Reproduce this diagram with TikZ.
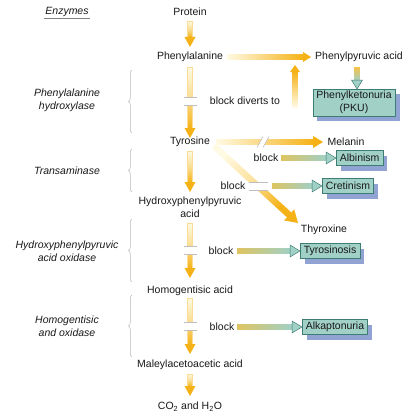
\documentclass[tikz,border=0pt]{standalone}
\usepackage{fontspec}
\setmainfont{Liberation Sans}
\usetikzlibrary{calc,shadows,decorations.pathreplacing}
\definecolor{org}{RGB}{245,178,22}
\definecolor{pale}{RGB}{255,250,228}
\definecolor{tealf}{RGB}{160,208,198}
\definecolor{teald}{RGB}{62,125,115}
\definecolor{shad}{RGB}{145,163,210}
\definecolor{olive}{RGB}{222,196,96}
\definecolor{txtc}{RGB}{25,25,25}
\definecolor{gapc}{RGB}{190,190,190}
\definecolor{brcc}{RGB}{185,185,185}
% #1 shaft opts, #2 head opts, #3 start, #4 tip, #5 shaft half width, #6 head half width, #7 head length
\newcommand{\farrow}[7]{%
  \coordinate (fa-h) at ($(#4)!#7!(#3)$);
  \coordinate (fa-k) at ($(#4)!#7-0.6pt!(#3)$);
  \path[#1] ($(#3)!#5!90:(#4)$) -- ($(fa-k)!#5!90:(#4)$) -- ($(fa-k)!#5!-90:(#4)$) -- ($(#3)!#5!-90:(#4)$) -- cycle;
  \path[#2] ($(fa-h)!#6!90:(#4)$) -- (#4) -- ($(fa-h)!#6!-90:(#4)$) -- cycle;
}
\begin{document}
\begin{tikzpicture}[x=1pt,y=-1pt,
  font=\fontsize{10.5}{13}\selectfont,
  every node/.style={text=txtc, inner sep=1pt},
  enzl/.style={font=\fontsize{10.5}{13}\selectfont\itshape, align=center},
  mol/.style={align=center},
  dbox/.style={draw=teald, line width=0.6pt, fill=tealf, inner xsep=3.5pt, inner ysep=2pt,
    minimum height=15pt, align=center,
    general shadow={fill=shad, draw=none, shadow xshift=4.5pt, shadow yshift=-5pt}},
  brc/.style={draw=brcc, line width=0.5pt, decorate, decoration={brace, amplitude=3.5pt}},
  gapline/.style={draw=gapc, line width=0.6pt},
  ohead/.style={fill=org},
  thead/.style={fill=tealf, draw=teald, line width=0.5pt, line join=miter},
  vshaft/.style={top color=pale, bottom color=org, middle color=pale!60!org, draw=org!45, line width=0.3pt},
  bshaft/.style={left color=olive, right color=tealf}]
\useasboundingbox (0,0) rectangle (420,420);
\fill[white] (0,0) rectangle (420,420);

% enzymes column
\node[enzl] (enz) at (67,12) {Enzymes};
\draw[draw=gray, line width=0.7pt] ($(enz.base west)+(0,4)$) -- ($(enz.base east)+(0,4)$);
\node[enzl] (e1) at (67,100) {Phenylalanine\\hydroxylase};
\node[enzl] (e2) at (67,171) {Transaminase};
\node[enzl] (e3) at (67,251) {Hydroxyphenylpyruvic\\acid oxidase};
\node[enzl] (e4) at (67,326) {Homogentisic\\and oxidase};
\draw[brc] (132,133) -- (132,70);
\draw[brc] (132,192) -- (132,149);
\draw[brc] (132,282) -- (132,219);
\draw[brc] (132,357) -- (132,295);

% main column
\node[mol] (protein) at (190,12) {Protein};
\node[mol] (phe) at (190,57) {Phenylalanine};
\node[mol] (tyr) at (190,142) {Tyrosine};
\node[mol] (hpp) at (190,207.5) {Hydroxyphenylpyruvic\\acid};
\node[mol] (hga) at (190,291) {Homogentisic acid};
\node[mol] (maa) at (190,365) {Maleylacetoacetic acid};
\node[mol] (co2) at (190,407) {CO\textsubscript{2} and H\textsubscript{2}O};

% right side
\node[mol] (ppa) at (359,57) {Phenylpyruvic acid};
\node[dbox, anchor=north] (pku) at (354,89) {Phenylketonuria\\(PKU)};
\node[mol] (mel) at (346,142) {Melanin};
\node[dbox, anchor=west] (alb) at (336,158) {Albinism};
\node[dbox, anchor=west] (cret) at (322,186) {Cretinism};
\node[mol] (thy) at (324,230) {Thyroxine};
\node[dbox, anchor=west] (tyrs) at (300,251) {Tyrosinosis};
\node[dbox, anchor=west] (alk) at (302,327) {Alkaptonuria};

\node[mol] (bdiv) at (245,101) {block diverts to};
\node[mol] (blk1) at (266,158) {block};
\node[mol] (blk2) at (233,186) {block};
\node[mol] (blk3) at (221,251) {block};
\node[mol] (blk4) at (222,327) {block};

% arrow end points
\coordinate (a1s) at (190,21);  \coordinate (a1e) at (190,47);
\coordinate (a2s) at (190,67);  \coordinate (a2e) at (190,138);
\coordinate (a8s) at (190,151); \coordinate (a8e) at (190,192);
\coordinate (a9s) at (190,223); \coordinate (a9e) at (190,278);
\coordinate (a10s) at (190,298); \coordinate (a10e) at (190,354);
\coordinate (a11s) at (190,374); \coordinate (a11e) at (190,396);
\coordinate (a3s) at (227,57);  \coordinate (a3e) at (311,57);
\coordinate (a4s) at (295,107); \coordinate (a4e) at (295,65);
\coordinate (a5s) at (357,67);  \coordinate (a5e) at (357,89);
\coordinate (a6s) at (216,142); \coordinate (a6e) at (323,142);
\coordinate (a7s) at (214,146); \coordinate (a7e) at (298,223);
\coordinate (b1s) at (281,158);
\coordinate (b2s) at (272,186);
\coordinate (b3s) at (237,251);
\coordinate (b4s) at (237,327);

% main vertical arrows
\farrow{vshaft}{ohead}{a1s}{a1e}{2.5pt}{5.5pt}{10pt}
\farrow{vshaft}{ohead}{a2s}{a2e}{2.5pt}{5.5pt}{10pt}
\farrow{vshaft}{ohead}{a8s}{a8e}{2.5pt}{5.5pt}{10pt}
\farrow{vshaft}{ohead}{a9s}{a9e}{2.5pt}{5.5pt}{10pt}
\farrow{vshaft}{ohead}{a10s}{a10e}{2.5pt}{5.5pt}{10pt}
\farrow{vshaft}{ohead}{a11s}{a11e}{2.5pt}{5.5pt}{10pt}
% breaks on vertical arrows
\foreach \ya/\yb in {97/105, 246/254, 322/330}{
  \fill[white] (183.5,\ya) rectangle (196.5,\yb);
  \draw[gapline] (183.5,\ya) -- (196.5,\ya) (183.5,\yb) -- (196.5,\yb);
}

% phenylalanine -> phenylpyruvic acid
\farrow{left color=pale, right color=org, middle color=pale!50!org}{ohead}{a3s}{a3e}{2.5pt}{5pt}{8pt}
% block diverts to (up)
\farrow{bottom color=pale, top color=org, middle color=pale!50!org}{ohead}{a4s}{a4e}{2.5pt}{5pt}{7pt}
% phenylpyruvic acid -> PKU
\farrow{top color=org!80, bottom color=tealf}{thead}{a5s}{a5e}{2.8pt}{5.5pt}{9pt}

% tyrosine -> melanin
\farrow{left color=pale, right color=org, middle color=pale!50!org}{ohead}{a6s}{a6e}{2.8pt}{6pt}{10pt}
\fill[white] (257,147.5) -- (263,136.5) -- (269,136.5) -- (263,147.5) -- cycle;
\draw[gapline] (257,147.5) -- (263,136.5) (263,147.5) -- (269,136.5);
% tyrosine -> thyroxine
\farrow{top color=pale, bottom color=org, middle color=pale!65!org, shading angle=45}{ohead}{a7s}{a7e}{3.3pt}{7.5pt}{12pt}
\fill[white] (249,182) rectangle (268,190);
\draw[gapline] (249,182) -- (268,182) (249,190) -- (268,190);

% block arrows
\farrow{bshaft}{thead}{b1s}{alb.west}{2.8pt}{6pt}{10pt}
\farrow{bshaft}{thead}{b2s}{cret.west}{2.8pt}{6pt}{10pt}
\farrow{bshaft}{thead}{b3s}{tyrs.west}{2.8pt}{6pt}{10pt}
\farrow{bshaft}{thead}{b4s}{alk.west}{2.8pt}{6pt}{10pt}
\end{tikzpicture}
\end{document}
